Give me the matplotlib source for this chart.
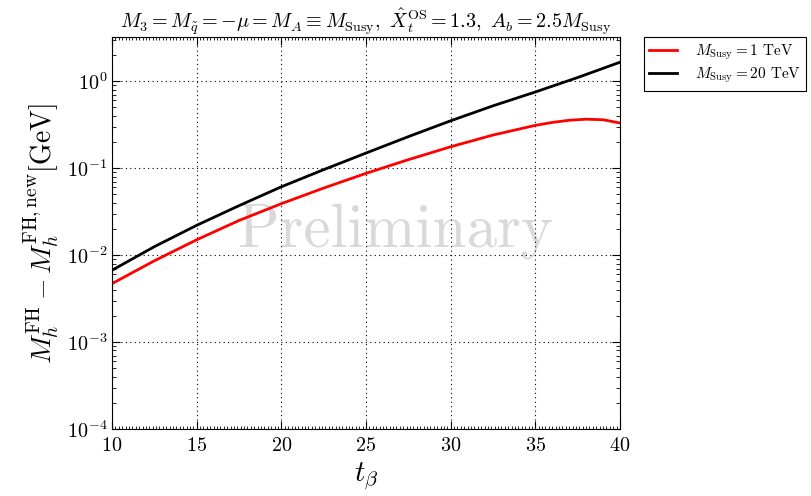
import matplotlib
matplotlib.use("Agg")
import matplotlib.pyplot as plt
from matplotlib.ticker import MultipleLocator, LogLocator, NullFormatter

plt.rcParams['font.family'] = 'serif'
plt.rcParams['font.serif'] = ['cmr10']
plt.rcParams['mathtext.fontset'] = 'cm'
plt.rcParams['axes.formatter.use_mathtext'] = True

# values
tb_black = [10, 12.5, 15, 17.5, 20, 22.5, 25, 27.5, 30, 32.5, 35, 37.5, 40]
dm_20tev = [0.0067, 0.0125, 0.022, 0.037, 0.061, 0.096, 0.149, 0.23, 0.35, 0.52, 0.75, 1.1, 1.65]

tb_red = [10, 12.5, 15, 17.5, 20, 22.5, 25, 27.5, 30, 32.5, 35, 36, 37, 38, 39, 40]
dm_1tev = [0.0047, 0.0086, 0.015, 0.025, 0.039, 0.059, 0.087, 0.125, 0.176, 0.24,
           0.31, 0.335, 0.355, 0.365, 0.36, 0.33]

fig = plt.figure(figsize=(8.12, 4.96), dpi=100)
ax = fig.add_axes([0.138, 0.135, 0.6255, 0.79])

ax.plot(tb_red, dm_1tev, color='red', lw=2, label=r'$M_{\rm Susy} = 1$ TeV')
ax.plot(tb_black, dm_20tev, color='black', lw=2, label=r'$M_{\rm Susy} = 20$ TeV')

ax.set_yscale('log')
ax.set_xlim(10, 40)
ax.set_ylim(1e-4, 3.2)
ax.xaxis.set_major_locator(MultipleLocator(5))
ax.xaxis.set_minor_locator(MultipleLocator(0.2))
ax.yaxis.set_major_locator(LogLocator(base=10, numticks=10))
ax.yaxis.set_minor_locator(LogLocator(base=10, subs=range(2, 10), numticks=20))
ax.yaxis.set_minor_formatter(NullFormatter())

ax.tick_params(which='both', direction='in', top=True, right=True, labelsize=14.5)
ax.tick_params(which='major', length=6, width=0.8)
ax.tick_params(which='minor', length=3, width=0.6)
ax.tick_params(axis='x', which='minor', length=2)
ax.tick_params(axis='x', pad=6)
ax.grid(True, which='major', color='black', linestyle=(0, (1, 3)), linewidth=0.8)

ax.set_xlabel(r'$t_\beta$', fontsize=21, labelpad=4)
ax.set_ylabel(r'$M_h^{\rm FH} - M_h^{\rm FH,new} [{\rm GeV}]$', fontsize=20, labelpad=4)
ax.set_title(r'$M_3 = M_{\tilde{q}} = -\mu = M_A \equiv M_{\rm Susy},\ \hat{X}_t^{\rm OS} = 1.3,\ A_b = 2.5 M_{\rm Susy}$',
             fontsize=14.5, pad=5)

ax.text(0.559, 0.505, 'Preliminary', transform=ax.transAxes, fontsize=44,
        color='#d9d9d9', ha='center', va='center', zorder=0)

leg = ax.legend(loc='upper left', bbox_to_anchor=(1.047, 1.0), borderaxespad=0,
                fontsize=11, fancybox=False, edgecolor='black', framealpha=1,
                handlelength=1.8, borderpad=0.35, labelspacing=0.25, handletextpad=1.2)
leg.get_frame().set_linewidth(0.8)

fig.savefig('out.png', dpi=100)
